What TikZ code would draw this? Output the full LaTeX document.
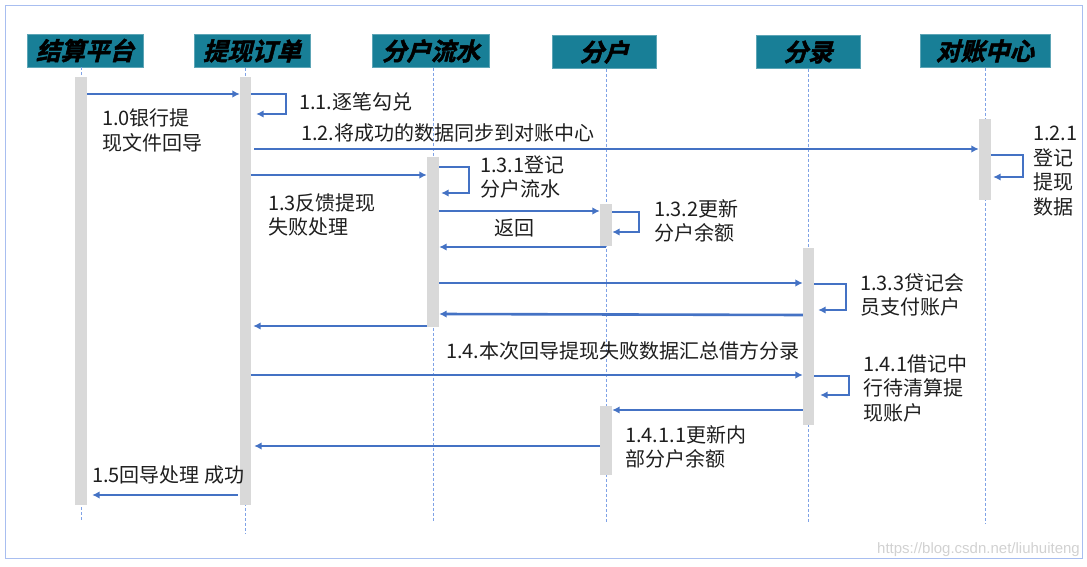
\documentclass[tikz,border=0pt]{standalone}
\usepackage{fontspec}
\setmainfont{Noto Sans CJK SC}
\newfontfamily\hdrfont{Noto Sans CJK SC Bold}[FakeSlant=0.25,FakeBold=2]
\newfontfamily\wmfont{Liberation Sans}
\usetikzlibrary{arrows.meta}
\definecolor{teal}{HTML}{187F97}
\definecolor{arrowblue}{HTML}{4472C4}
\definecolor{lifeblue}{HTML}{7FA2E6}
\definecolor{framec}{HTML}{A8BEF0}
\definecolor{barg}{HTML}{D9D9D9}
\definecolor{txt}{HTML}{1E1E1E}
\tikzset{
  hdr/.style={fill=teal, draw=teal!70!white, line width=0.6pt, minimum height=33pt, inner sep=0pt,
    font=\hdrfont\fontsize{24.5}{26}\selectfont, text=black},
  bar/.style={fill=barg, draw=none, minimum width=12pt, inner sep=0pt},
  life/.style={draw=lifeblue, line width=0.6pt, dash pattern=on 3pt off 2pt},
  msg/.style={draw=arrowblue, line width=2.6pt, -{Latex[length=7.5pt,width=7.5pt]}},
  lbl/.style={anchor=west, align=left, inner sep=0pt, text=txt, font=\fontsize{20}{24.5}\selectfont},
}
\begin{document}
\begin{tikzpicture}[x=1pt,y=-1pt]
\useasboundingbox (0,0) rectangle (1087,567);
\draw[framec, line width=1pt] (5,6) rectangle (1082,558);

% headers
\node[hdr, minimum width=116pt] (h1) at (85,50.5) {结算平台};
\node[hdr, minimum width=116pt] (h2) at (252,51) {提现订单};
\node[hdr, minimum width=117pt] (h3) at (431,51) {分户流水};
\node[hdr, minimum width=104pt] (h4) at (604,52) {分户};
\node[hdr, minimum width=104pt] (h5) at (808,52) {分录};
\node[hdr, minimum width=130pt] (h6) at (985,51) {对账中心};

% lifelines
\coordinate (l1) at (81,522);
\coordinate (l2) at (245.5,533);
\coordinate (l3) at (433,522);
\coordinate (l4) at (606,522);
\coordinate (l5) at (808.5,523);
\coordinate (l6) at (985,523);
\draw[life] (l1 |- h1.south) -- (l1);
\draw[life] (l2 |- h2.south) -- (l2);
\draw[life] (l3 |- h3.south) -- (l3);
\draw[life] (l4 |- h4.south) -- (l4);
\draw[life] (l5 |- h5.south) -- (l5);
\draw[life] (l6 |- h6.south) -- (l6);

% activation bars
\node[bar, minimum height=428pt] (b1) at (81,291) {};
\node[bar, minimum width=11pt, minimum height=428pt] (b2) at (245.5,291) {};
\node[bar, minimum height=170pt] (b3) at (433,242) {};
\node[bar, minimum height=42pt] (b4) at (606,225) {};
\node[bar, minimum width=11pt, minimum height=177pt] (b5) at (808.5,336.5) {};
\node[bar, minimum height=81pt] (b6) at (985,159.5) {};
\node[bar, minimum height=69pt] (b7) at (606,440.5) {};

% messages
\draw[msg] (b1.east |- 0,94) -- (b2.west |- 0,94);
\draw[msg] (b2.east |- 0,94) -- (286,94) -- (286,114) -- ([xshift=5pt]b2.east |- 0,114);
\draw[msg] ([xshift=3pt]b2.east |- 0,149) -- (b6.west |- 0,149);
\draw[msg] (b6.east |- 0,155) -- (1023,155) -- (1023,177) -- ([xshift=2pt]b6.east |- 0,177);
\draw[msg] (b2.east |- 0,175) -- (b3.west |- 0,175);
\draw[msg] (b3.east |- 0,167) -- (469,167) -- (469,193) -- ([xshift=2pt]b3.east |- 0,193);
\draw[msg] (b3.east |- 0,211) -- (b4.west |- 0,211);
\draw[msg] (b4.east |- 0,212) -- (639,212) -- (639,232) -- (b4.east |- 0,232);
\draw[msg] (b4.south |- 0,247) -- (b3.east |- 0,247);
\draw[msg] (b3.east |- 0,283) -- (b5.west |- 0,283);
\draw[msg] (b5.east |- 0,284) -- (846,284) -- (846,310) -- ([xshift=4pt]b5.east |- 0,310);
\draw[msg] (b5.west |- 0,315) -- (b3.east |- 0,314);
\draw[msg] (b3.west |- 0,326) -- ([xshift=2pt]b2.east |- 0,326);
\draw[msg] (b2.east |- 0,375) -- (b5.west |- 0,375);
\draw[msg] (b5.east |- 0,376) -- (849,376) -- (849,395) -- ([xshift=6pt]b5.east |- 0,395);
\draw[msg] (b5.west |- 0,410) -- (b7.east |- 0,410);
\draw[msg] (b7.west |- 0,446) -- ([xshift=3pt]b2.east |- 0,446);
\draw[msg] ([xshift=-2pt]b2.west |- 0,495) -- ([xshift=5pt]b1.east |- 0,495);

% labels
\node[lbl] (t10) at (102,130.5) {1.0银行提\\现文件回导};
\node[lbl] (t11) at (299,102) {1.1.逐笔勾兑};
\node[lbl] (t12) at (301,133) {1.2.将成功的数据同步到对账中心};
\node[lbl] (t121) at (1033,171) {1.2.1\\登记\\提现\\数据};
\node[lbl] (t131) at (480,177) {1.3.1登记\\分户流水};
\node[lbl] (t13) at (268,215) {1.3反馈提现\\失败处理};
\node[lbl, anchor=center] (tret) at (514,228) {返回};
\node[lbl] (t132) at (654,221) {1.3.2更新\\分户余额};
\node[lbl] (t133) at (860,295) {1.3.3贷记会\\员支付账户};
\node[lbl] (t14) at (446,351) {1.4.本次回导提现失败数据汇总借方分录};
\node[lbl] (t141) at (863,388) {1.4.1借记中\\行待清算提\\现账户};
\node[lbl] (t1411) at (625,447) {1.4.1.1更新内\\部分户余额};
\node[lbl] (t15) at (92,475) {1.5回导处理 成功};
\node[anchor=east, inner sep=0pt, text=black!18, font=\wmfont\fontsize{15}{18}\selectfont] (wm) at (1080,550) {https://blog.csdn.net/liuhuiteng};
\end{tikzpicture}
\end{document}
